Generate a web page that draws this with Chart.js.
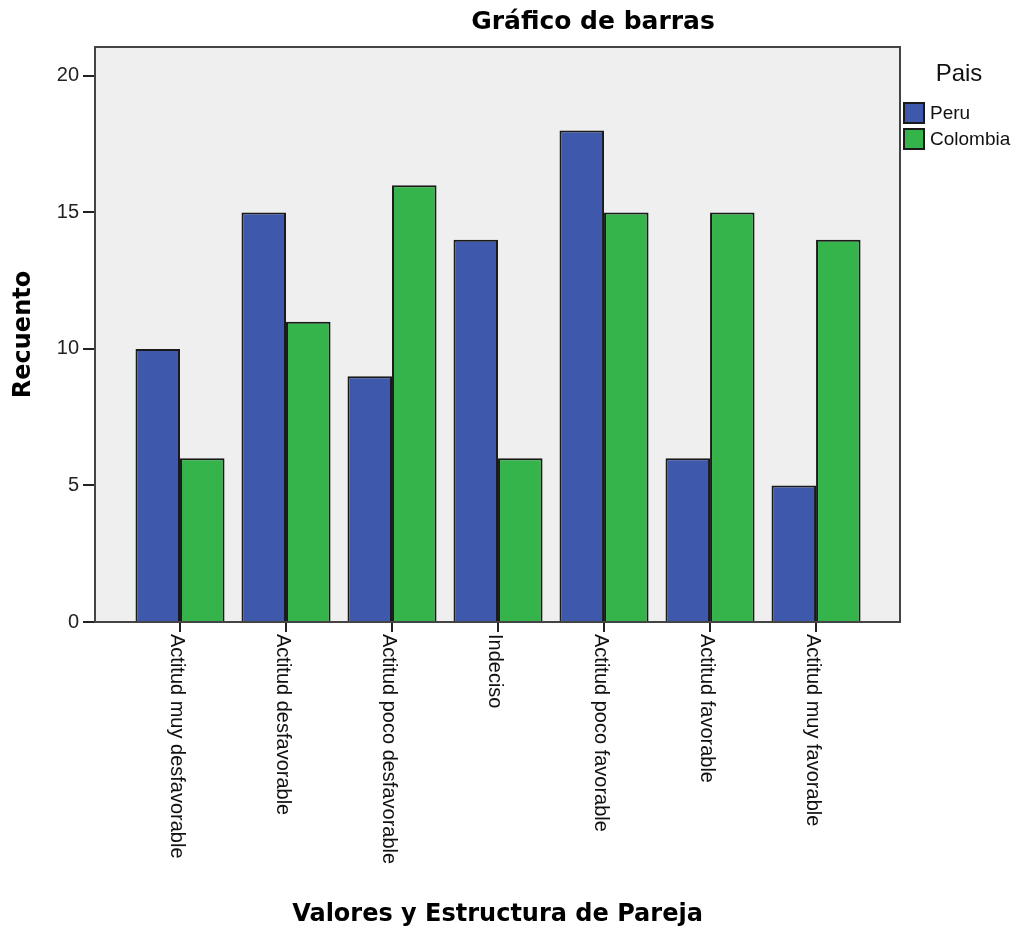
<!DOCTYPE html>
<html>
<head>
<meta charset="utf-8">
<script src="https://cdn.jsdelivr.net/npm/chart.js@4/dist/chart.umd.min.js"></script>
<style>
  html, body { margin: 0; padding: 0; background: #fff; }
  #wrap { width: 1021px; height: 938px; }
</style>
</head>
<body>
<div id="wrap"><canvas id="myBarChart" width="1021" height="938"></canvas></div>
<script>
var categories = ['Actitud muy desfavorable', 'Actitud desfavorable', 'Actitud poco desfavorable',
  'Indeciso', 'Actitud poco favorable', 'Actitud favorable', 'Actitud muy favorable'];
var peru = [10, 15, 9, 14, 18, 6, 5];
var colombia = [6, 11, 16, 6, 15, 15, 14];
var yTicks = [0, 5, 10, 15, 20];

var chartTitle = 'Gráfico de barras';
var legendTitle = 'Pais';

Chart.defaults.font.family = '"Liberation Sans", Arial, sans-serif';
Chart.defaults.color = '#111';

// plot background + frame, title, rotated category labels, legend
var frame = {
  id: 'frame',
  beforeDatasetsDraw: function (chart) {
    var a = chart.chartArea, c = chart.ctx;
    c.save();
    c.fillStyle = '#efefef';
    c.fillRect(a.left, a.top, a.right - a.left, a.bottom - a.top);
    c.restore();
  },
  afterDatasetsDraw: function (chart) {
    var a = chart.chartArea, c = chart.ctx;
    c.save();
    c.strokeStyle = '#444';
    c.lineWidth = 2;
    c.strokeRect(a.left, a.top, a.right - a.left, a.bottom - a.top);
    c.restore();
  },
  afterDraw: function (chart) {
    var c = chart.ctx, a = chart.chartArea, xs = chart.scales.x;
    c.save();
    // title
    c.font = 'bold 25px "DejaVu Sans", sans-serif';
    c.fillStyle = '#000';
    c.textAlign = 'center';
    c.textBaseline = 'middle';
    c.fillText(chartTitle, 593, 22);

    // category labels, reading top to bottom
    c.font = '20px "Liberation Sans", Arial, sans-serif';
    c.fillStyle = '#111';
    categories.forEach(function (lab, i) {
      var x = xs.getPixelForValue(i);
      c.save();
      c.translate(x - 4, a.bottom + 12);
      c.rotate(Math.PI / 2);
      c.textAlign = 'left';
      c.textBaseline = 'middle';
      c.fillText(lab, 0, 0);
      c.restore();
    });

    // legend
    c.textAlign = 'center';
    c.font = '24px "Liberation Sans", Arial, sans-serif';
    c.fillText(legendTitle, 959, 74);
    c.textAlign = 'left';
    c.font = '19px "Liberation Sans", Arial, sans-serif';
    chart.data.datasets.forEach(function (ds, i) {
      var y = 103 + i * 26;
      c.fillStyle = ds.backgroundColor;
      c.fillRect(904, y, 20, 20);
      c.strokeStyle = '#1a1a1a';
      c.lineWidth = 2;
      c.strokeRect(904, y, 20, 20);
      c.fillStyle = '#111';
      c.fillText(ds.label, 930, y + 11);
    });
    c.restore();
  }
};

var data = {
  datasets: [{
    label: 'Peru',
    data: peru.map(function (v, i) { return { x: i, y: v }; }),
    backgroundColor: 'rgb(62, 88, 171)',
    borderColor: '#1a1a1a',
    borderWidth: 2
  }, {
    label: 'Colombia',
    data: colombia.map(function (v, i) { return { x: i, y: v }; }),
    backgroundColor: 'rgb(52, 180, 74)',
    borderColor: '#1a1a1a',
    borderWidth: 2
  }]
};

var options = {
  responsive: false,
  animation: false,
  layout: { padding: { top: 47, right: 121, left: 0, bottom: 0 } },
  categoryPercentage: 0.84,
  barPercentage: 1,
  scales: {
    x: {
      type: 'linear',
      offset: false,
      min: -0.802,
      max: 6.792,
      afterBuildTicks: function (s) {
        s.ticks = categories.map(function (_, i) { return { value: i }; });
      },
      afterFit: function (s) { s.height = 316; },
      ticks: { display: false },
      grid: { offset: false, drawOnChartArea: false, drawTicks: true, tickLength: 10, color: '#222', lineWidth: 2 },
      border: { display: false },
      title: {
        display: true,
        text: 'Valores y Estructura de Pareja',
        font: { family: '"DejaVu Sans", sans-serif', size: 24, weight: 'bold' },
        color: '#000',
        padding: { top: 9, bottom: 9 }
      }
    },
    y: {
      min: 0,
      max: 21.06,
      afterBuildTicks: function (s) {
        s.ticks = yTicks.map(function (v) { return { value: v }; });
      },
      afterFit: function (s) { s.width = 95; },
      ticks: { font: { size: 20 }, color: '#222', padding: 4 },
      grid: { drawOnChartArea: false, drawTicks: true, tickLength: 12, color: '#222', lineWidth: 2 },
      border: { display: false },
      title: {
        display: true,
        text: 'Recuento',
        font: { family: '"DejaVu Sans", sans-serif', size: 24, weight: 'bold' },
        color: '#000',
        padding: { top: 9, bottom: 9 }
      }
    }
  },
  plugins: {
    legend: { display: false },
    tooltip: { enabled: false }
  }
};

var ctx = document.getElementById('myBarChart').getContext('2d');
var myBarChart = new Chart(ctx, {
  type: 'bar',
  data: data,
  options: options,
  plugins: [frame]
});
</script>
</body>
</html>
